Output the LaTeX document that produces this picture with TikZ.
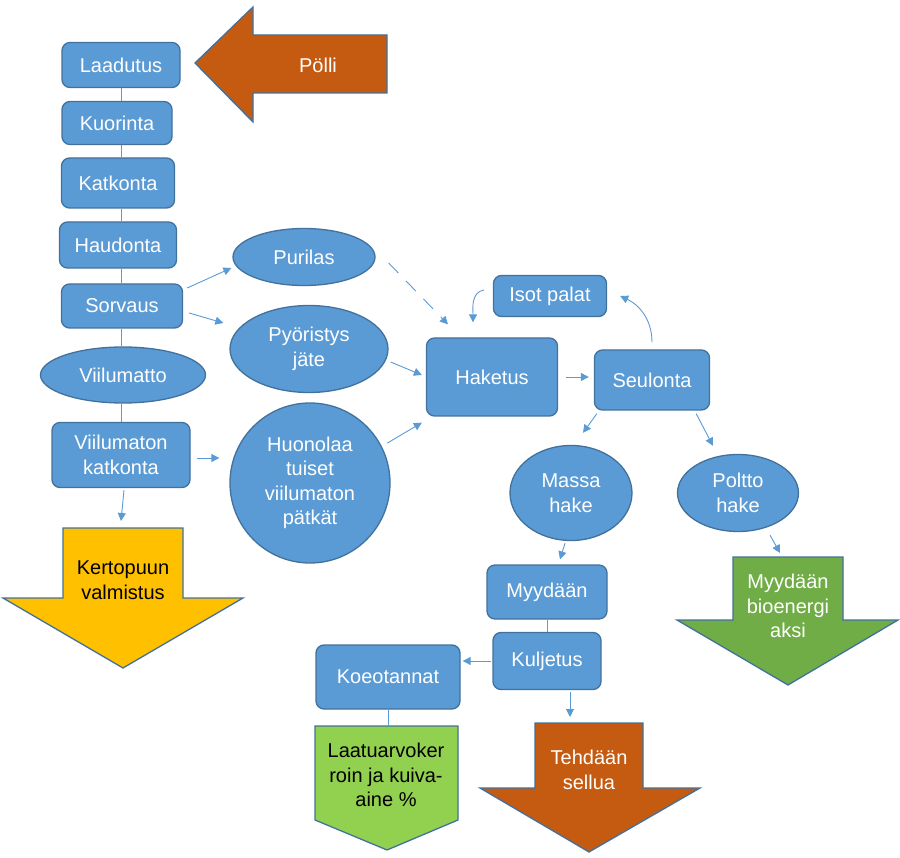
\documentclass[tikz,border=0pt]{standalone}
\usepackage{fontspec}
\setmainfont{Liberation Sans}
\usetikzlibrary{shapes.geometric,arrows.meta}
\definecolor{boxc}{HTML}{5B9BD5}
\definecolor{bordc}{HTML}{41719C}
\definecolor{orangec}{HTML}{C55A11}
\definecolor{yellowc}{HTML}{FFC000}
\definecolor{greenc}{HTML}{70AD47}
\definecolor{lgreenc}{HTML}{92D050}
\begin{document}
\begin{tikzpicture}[x=1pt,y=1pt,
  every node/.style={font=\fontsize{20}{24.5}\selectfont, align=center},
  box/.style={draw=bordc, fill=boxc, rounded corners=8pt, text=white, line width=1.3pt, inner sep=0pt},
  ell/.style={ellipse, draw=bordc, fill=boxc, text=white, line width=1.3pt, inner sep=0pt},
  blockarrow/.style={draw=bordc, line width=1.3pt},
  conn/.style={draw=boxc, line width=0.9pt},
  arr/.style={conn, -{Triangle[length=8pt,width=8pt]}}]
\useasboundingbox (0,0) rectangle (900,-858);

% left column
\node[box, minimum width=118, minimum height=45] (laad) at (121,-65) {Laadutus};
\node[box, minimum width=110, minimum height=43] (kuor) at (117,-123) {Kuorinta};
\node[box, minimum width=113, minimum height=50] (katk) at (118,-183) {Katkonta};
\node[box, minimum width=117, minimum height=46] (haud) at (118,-245) {Haudonta};
\node[box, minimum width=121, minimum height=44] (sorv) at (122,-306) {Sorvaus};
\node[ell, minimum width=165, minimum height=56] (vmat) at (123,-375) {Viilumatto};
\node[box, minimum width=138, minimum height=65] (vkat) at (121,-455) {Viilumaton\\katkonta};

\draw[conn] (laad.south) -- (laad.south |- kuor.north);
\draw[conn] (kuor.south -| laad.south) -- (laad.south |- katk.north);
\draw[conn] (katk.south -| laad.south) -- (laad.south |- haud.north);
\draw[conn] (haud.south -| laad.south) -- (laad.south |- sorv.north);
\draw[conn] (sorv.south -| laad.south) -- (laad.south |- vmat.north);
\draw[conn] (vmat.south -| laad.south) -- (laad.south |- vkat.north);

% Polli arrow
\draw[blockarrow, fill=orangec] (195,-63) -- (253,-7) -- (253,-35) -- (387,-35) -- (387,-93) -- (253,-93) -- (253,-122) -- cycle;
\node[text=white] (polli) at (318,-65) {Pölli};

% Kertopuun arrow
\draw[blockarrow, fill=yellowc] (63,-528) -- (183,-528) -- (183,-598) -- (243,-598) -- (123,-668) -- (3,-598) -- (63,-598) -- cycle;
\coordinate (kertotop) at (123,-528);
\node[text=black] (kerto) at (123,-580) {Kertopuun\\valmistus};
\draw[arr] ([xshift=3pt,yshift=-2pt]vkat.south) -- ([xshift=0pt,yshift=7pt]kertotop -| vkat.south);

% middle ellipses
\node[ell, minimum width=142, minimum height=57] (puri) at (304,-257) {Purilas};
\node[ell, minimum width=158, minimum height=87] (pyor) at (309,-349) {Pyöristys\\jäte};
\node[circle, draw=bordc, fill=boxc, text=white, line width=1.3pt, inner sep=0pt, minimum size=160] (huon) at (310,-483) {Huonolaa\\tuiset\\viilumaton\\pätkät};

\draw[arr] ([xshift=4pt,yshift=18pt]sorv.east) -- ([xshift=-1pt,yshift=-11pt]puri.west);
\draw[arr] ([xshift=6pt,yshift=-7pt]sorv.east) -- ([xshift=-6pt,yshift=26pt]pyor.west);
\draw[arr] ([xshift=6pt,yshift=-3pt]vkat.east) -- ([xshift=-10pt,yshift=25pt]huon.west);

% Haketus etc
\node[box, minimum width=131, minimum height=78] (hak) at (492,-377) {Haketus};
\node[box, minimum width=113, minimum height=41] (isot) at (550,-296) {Isot palat};
\node[box, minimum width=115, minimum height=60] (seul) at (652,-380) {Seulonta};

\draw[arr, dash pattern=on 14pt off 11pt] ([xshift=13pt,yshift=-6pt]puri.east) -- ([xshift=-44pt,yshift=13pt]hak.north);
\draw[arr] ([xshift=2pt,yshift=-13pt]pyor.east) -- ([xshift=-4pt,yshift=2pt]hak.west);
\draw[arr] ([xshift=6pt,yshift=2pt]huon.28) -- ([xshift=-4pt,yshift=-6pt]hak.south west);
\draw[arr] ([xshift=8pt]hak.east) -- ([xshift=-5pt]hak.east -| seul.west);
\draw[arr] ([yshift=7pt]seul.north) to[out=90,in=-25] ([xshift=13pt]isot.east);
\draw[arr] ([xshift=-9pt,yshift=6pt]isot.west) to[out=190,in=90] ([xshift=-19pt,yshift=15pt]hak.north);

% Massa / Poltto
\node[ell, minimum width=122, minimum height=95] (massa) at (571,-493) {Massa\\hake};
\node[ell, minimum width=121, minimum height=77] (poltto) at (738,-493) {Poltto\\hake};
\draw[arr] ([xshift=3pt,yshift=-3pt]seul.south west) -- ([xshift=12pt,yshift=12pt]massa.north);
\draw[arr] ([xshift=-14pt,yshift=-3pt]seul.south east) -- ([xshift=-25pt,yshift=8pt]poltto.north);

% Bio arrow
\draw[blockarrow, fill=greenc] (733,-557) -- (843,-557) -- (843,-620) -- (898,-620) -- (788,-685) -- (677,-620) -- (733,-620) -- cycle;
\coordinate (biotop) at (788,-557);
\node[text=white] (bio) at (788,-606) {Myydään\\bioenergi\\aksi};
\draw[arr] ([xshift=32pt,yshift=-3pt]poltto.south) -- ([xshift=-8pt,yshift=4pt]biotop);

% Myydaan / Kuljetus
\node[box, minimum width=120, minimum height=54] (myy) at (547,-592) {Myydään};
\node[box, minimum width=108, minimum height=57] (kulj) at (547,-661) {Kuljetus};
\draw[arr] ([xshift=-6pt,yshift=-2pt]massa.south) -- ([xshift=13pt,yshift=5pt]myy.north);
\draw[conn] (myy.south) -- (kulj.north);

\node[box, minimum width=144, minimum height=64] (koe) at (388,-677) {Koeotannat};
\draw[arr] ([xshift=-1pt]kulj.west) -- ([xshift=2pt]kulj.west -| koe.east);

% Laatu pentagon
\draw[blockarrow, fill=lgreenc] (315,-726) -- (458,-726) -- (458,-820) -- (387,-850) -- (315,-820) -- cycle;
\coordinate (laatutop) at (388,-726);
\node[text=black] (laatu) at (386,-775) {Laatuarvoker\\roin ja kuiva-\\aine \%};
\draw[conn] (koe.south) -- (laatutop);

% Tehdaan arrow
\draw[blockarrow, fill=orangec] (535,-723) -- (643,-723) -- (643,-788) -- (700,-788) -- (589,-852) -- (480,-788) -- (535,-788) -- cycle;
\coordinate (tehtop) at (570,-723);
\node[text=white] (teh) at (589,-770) {Tehdään\\sellua};
\draw[arr] ([xshift=23pt,yshift=-2pt]kulj.south) -- ([yshift=6pt]tehtop);
\end{tikzpicture}
\end{document}
